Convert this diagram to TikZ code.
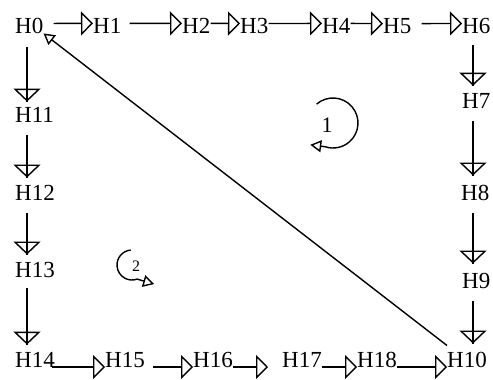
\documentclass[tikz,border=0pt]{standalone}
\usepackage{fontspec}
\setmainfont{Liberation Serif}
\usetikzlibrary{arrows.meta,calc}
\begin{document}
\begin{tikzpicture}[x=1pt,y=-1pt,
  lbl/.style={inner sep=0pt, anchor=base west, font=\fontsize{23}{27}\selectfont},
  harr/.style={line width=1.4pt, -{Triangle[open,length=12pt,width=24pt]}},
  varr/.style={line width=1.4pt, -{Triangle[open,length=13pt,width=27pt]}, postaction={draw, arrows=-}},
  sarr/.style={line width=1.4pt, -{Triangle[open,length=11pt,width=12pt]}},
  numlbl/.style={inner sep=0pt, font=\fontsize{22}{26}\selectfont},
  numlbls/.style={inner sep=0pt, font=\fontsize{16}{19}\selectfont}]
\useasboundingbox (0,0) rectangle (493,380);
% top row
\node[lbl] (H0) at (15,33) {H0};
\node[lbl] (H1) at (93,33) {H1};
\node[lbl] (H2) at (182,33) {H2};
\node[lbl] (H3) at (240,33) {H3};
\node[lbl] (H4) at (322,33) {H4};
\node[lbl] (H5) at (383,33) {H5};
\node[lbl] (H6) at (462,33) {H6};
% right column
\node[lbl] (H7) at (462,108) {H7};
\node[lbl] (H8) at (461,200) {H8};
\node[lbl] (H9) at (462,288) {H9};
\node[lbl] (H10) at (447,367) {H10};
% left column
\node[lbl] (H11) at (15,122) {H11};
\node[lbl] (H12) at (15,200) {H12};
\node[lbl] (H13) at (15,277) {H13};
\node[lbl] (H14) at (15,367) {H14};
% bottom row
\node[lbl] (H15) at (105,367) {H15};
\node[lbl] (H16) at (193,367) {H16};
\node[lbl] (H17) at (282,367) {H17};
\node[lbl] (H18) at (357,367) {H18};
% column coordinates
\coordinate (L) at (27,0);
\coordinate (R) at (473,0);
% top arrows
\draw[harr, shorten <=10pt] ([yshift=2pt]H0.east) -- ([yshift=2pt]H1.west);
\draw[harr, shorten <=8pt] ([yshift=2pt]H1.east) -- ([yshift=2pt]H2.west);
\draw[harr] ([yshift=2pt]H2.east) -- ([yshift=2pt]H3.west);
\draw[harr] ([yshift=2pt]H3.east) -- ([yshift=2pt]H4.west);
\draw[harr] ([yshift=2pt]H4.east) -- ([yshift=2pt]H5.west);
\draw[harr, shorten <=10pt] ([yshift=2pt]H5.east) -- ([yshift=2pt]H6.west);
% left arrows
\draw[varr, shorten <=14pt, shorten >=5pt] (H0.south -| L) -- (H11.north -| L);
\draw[varr, shorten <=13pt, shorten >=7pt] (H11.south -| L) -- (H12.north -| L);
\draw[varr, shorten <=13pt, shorten >=7pt] (H12.south -| L) -- (H13.north -| L);
\draw[varr, shorten <=11pt, shorten >=7pt] (H13.south -| L) -- (H14.north -| L);
% right arrows
\draw[varr, shorten <=12pt, shorten >=7pt] (H6.south -| R) -- (H7.north -| R);
\draw[varr, shorten <=13pt, shorten >=9pt] (H7.south -| R) -- (H8.north -| R);
\draw[varr, shorten <=13pt, shorten >=9pt] (H8.south -| R) -- (H9.north -| R);
\draw[varr, shorten <=13pt, shorten >=8pt] (H9.south -| R) -- (H10.north -| R);
% bottom arrows
\draw[harr, shorten <=-3pt] (H14.base east) -- (H15.base west);
\draw[harr, shorten <=8pt] (H15.base east) -- (H16.base west);
\draw[harr, shorten >=14pt] (H16.base east) -- (H17.base west);
\draw[harr] (H17.base east) -- (H18.base west);
\draw[harr] (H18.base east) -- (H10.base west);
% diagonal
\draw[sarr] ([yshift=6pt]H10.north west) -- (H0.south east);
% loops
\coordinate (c1) at (333,123);
\coordinate (c2) at (132,265);
\draw[sarr] ($(c1)+(-131:25)$) arc[start angle=-131, end angle=108, radius=25] -- ++(-15,-2);
\node[numlbl] (n1) at (327,125) {1};
\draw[sarr] ($(c2)+(-95:15)$) arc[start angle=-95, end angle=-290, radius=15] -- ++(17,5);
\node[numlbls] (n2) at (136,266) {2};
\end{tikzpicture}
\end{document}
